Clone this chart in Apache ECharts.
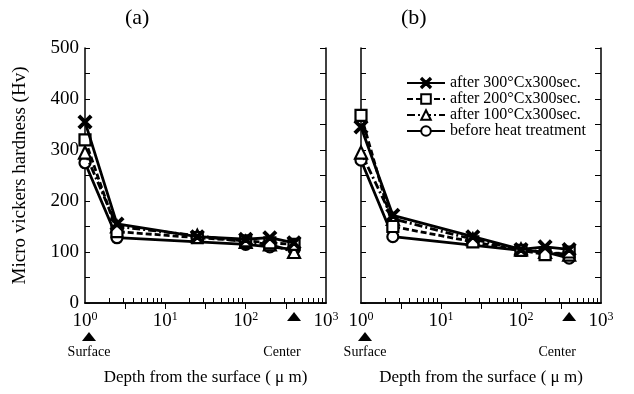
<!DOCTYPE html>
<html>
<head>
<meta charset="utf-8">
<script src="https://cdn.jsdelivr.net/npm/echarts@6/dist/echarts.min.js"></script>
<style>
  html, body { margin: 0; padding: 0; background: #fff; }
  #chart { width: 634px; height: 394px; }
</style>
</head>
<body>
<div id="chart"></div>
<script>
// depth (µm) where hardness was measured
const depths = [1, 2.5, 25, 100, 200, 400];
const depthsBefore = [1, 2.5, 100, 200, 400];

// panel (a)
const a300 = [355, 155, 130, 125, 128, 118];
const a200 = [320, 140, 128, 122, 118, 115];
const a100 = [295, 150, 132, 120, 115, 100];
const aBefore = [275, 128, 115, 110, 105];

// panel (b)
const b300 = [345, 172, 130, 105, 110, 105];
const b200 = [368, 150, 120, 103, 95, 100];
const b100 = [295, 165, 125, 105, 100, 95];
const bBefore = [280, 130, 103, 100, 88];

const names = ['after 300\u00B0Cx300sec.', 'after 200\u00B0Cx300sec.', 'after 100\u00B0Cx300sec.', 'before heat treatment'];
const yTicks = [0, 100, 200, 300, 400, 500];
const minorX = [2, 3, 4, 5, 6, 7, 8, 9, 20, 30, 40, 50, 60, 70, 80, 90, 200, 300, 400, 500, 600, 700, 800, 900];
const halfDecades = [3.16, 10, 31.6, 100, 316];

const FONT = '"Liberation Serif", "DejaVu Serif", serif';
const crossPath = 'path://M1,0L5,4L9,0L10,1L6,5L10,9L9,10L5,6L1,10L0,9L4,5L0,1Z';

const styles = [
    { symbol: crossPath, symbolSize: 12, line: 'solid', fill: '#000' },
    { symbol: 'rect', symbolSize: 11, line: [6, 3], fill: '#fff' },
    { symbol: 'triangle', symbolSize: 12, line: [8, 3, 2, 3], fill: '#fff' },
    { symbol: 'circle', symbolSize: 11, line: 'solid', fill: '#fff' }
];

const zip = (xs, ys) => xs.map((x, i) => [x, ys[i]]);

function panelSeries(idx, sets) {
    return sets.map((d, k) => ({
        name: names[k],
        type: 'line',
        xAxisIndex: idx * 2,
        yAxisIndex: idx * 2,
        data: d,
        symbol: styles[k].symbol,
        symbolSize: styles[k].symbolSize,
        showAllSymbol: true,
        z: 10 - k,
        lineStyle: { color: '#000', width: 2.8, type: styles[k].line },
        itemStyle: { color: styles[k].fill, borderColor: '#000', borderWidth: 2.2 },
        emphasis: { disabled: true }
    }));
}

const grids = [
    { left: 85, right: 308, top: 48, bottom: 91 },
    { left: 361, right: 33, top: 48, bottom: 91 }
];

function xAxes(g) {
    return [
        {
            type: 'log', logBase: 10, min: 1, max: 1000, gridIndex: g,
            name: 'Depth from the surface ( \u03BC m)',
            nameLocation: 'middle', nameGap: 66,
            nameTextStyle: { fontFamily: FONT, fontSize: 17, color: '#000' },
            axisLine: { lineStyle: { color: '#000', width: 1.5 } },
            axisTick: { inside: true, length: 5, customValues: minorX, lineStyle: { color: '#000' } },
            splitLine: { show: false },
            minorTick: { show: false },
            axisLabel: {
                margin: 8,
                formatter: v => '{b|10}{s|' + Math.round(Math.log10(v)) + '}',
                rich: {
                    b: { fontFamily: FONT, fontSize: 19, color: '#000' },
                    s: { fontFamily: FONT, fontSize: 12, color: '#000', padding: [0, 0, 9, 0] }
                }
            }
        },
        {
            type: 'log', logBase: 10, min: 1, max: 1000, gridIndex: g, position: 'top',
            axisLine: { lineStyle: { color: '#000', width: 1.5 } },
            axisTick: { inside: true, length: 6, customValues: halfDecades, lineStyle: { color: '#000' } },
            axisLabel: { show: false },
            splitLine: { show: false }
        }
    ];
}

function yAxes(g, labels) {
    return [
        {
            type: 'value', min: 0, max: 500, interval: 50, gridIndex: g,
            name: labels ? 'Micro vickers hardness (Hv)' : '',
            nameLocation: 'middle', nameGap: 55,
            nameTextStyle: { fontFamily: FONT, fontSize: 19, color: '#000' },
            axisLine: { show: true, lineStyle: { color: '#000', width: 1.5 } },
            axisTick: { inside: true, length: 5, lineStyle: { color: '#000' } },
            splitLine: { show: false },
            axisLabel: {
                show: labels, margin: 6,
                fontFamily: FONT, fontSize: 19, color: '#000',
                formatter: v => (yTicks.indexOf(v) >= 0 ? String(v) : '')
            }
        },
        {
            type: 'value', min: 0, max: 500, interval: 50, gridIndex: g, position: 'right',
            axisLine: { show: true, lineStyle: { color: '#000', width: 1.5 } },
            axisTick: { inside: true, length: 6, lineStyle: { color: '#000' } },
            axisLabel: { show: false },
            splitLine: { show: false }
        }
    ];
}

const chart = echarts.init(document.getElementById('chart'));

chart.setOption({
    animation: false,
    backgroundColor: '#fff',
    textStyle: { fontFamily: FONT, color: '#000' },
    title: [
        { text: '(a)', left: 120, top: 2, textStyle: { fontFamily: FONT, fontSize: 22, fontWeight: 'normal', color: '#000' } },
        { text: '(b)', left: 396, top: 2, textStyle: { fontFamily: FONT, fontSize: 22, fontWeight: 'normal', color: '#000' } }
    ],
    legend: {
        data: names,
        orient: 'vertical',
        left: 401, top: 70,
        itemWidth: 38, itemHeight: 12, itemGap: 0,
        textStyle: { fontFamily: FONT, fontSize: 16, color: '#000', padding: [0, 0, 0, 0] },
        selectedMode: false
    },
    grid: grids,
    xAxis: [...xAxes(0), ...xAxes(1)],
    yAxis: [...yAxes(0, true), ...yAxes(1, false)],
    series: [
        ...panelSeries(0, [zip(depths, a300), zip(depths, a200), zip(depths, a100), zip(depthsBefore, aBefore)]),
        ...panelSeries(1, [zip(depths, b300), zip(depths, b200), zip(depths, b100), zip(depthsBefore, bBefore)])
    ]
});

// Surface / Center markers placed under the axis from the axis scale
const marks = [];
[0, 2].forEach(xi => {
    const xs = chart.convertToPixel({ xAxisIndex: xi }, 1);
    const xc = chart.convertToPixel({ xAxisIndex: xi }, 400);
    marks.push(
        { type: 'polygon', shape: { points: [[xs + 4, 332], [xs - 3, 341], [xs + 11, 341]] }, style: { fill: '#000' } },
        { type: 'text', x: xs + 4, y: 352, style: { text: 'Surface', font: '14px ' + FONT, fill: '#000', align: 'center', verticalAlign: 'middle' } },
        { type: 'polygon', shape: { points: [[xc, 312], [xc - 7, 321], [xc + 7, 321]] }, style: { fill: '#000' } },
        { type: 'text', x: xc - 12, y: 352, style: { text: 'Center', font: '14px ' + FONT, fill: '#000', align: 'center', verticalAlign: 'middle' } }
    );
});
chart.setOption({ graphic: marks });
</script>
</body>
</html>
